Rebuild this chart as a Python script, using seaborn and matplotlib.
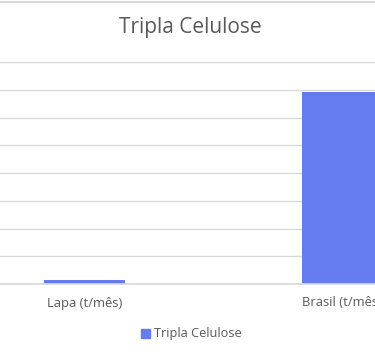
import matplotlib
matplotlib.use("Agg")
import matplotlib.pyplot as plt
import seaborn as sns
import pandas as pd
from matplotlib.patches import Rectangle
from matplotlib.lines import Line2D

categories = ["Lapa (t/mês)", "Brasil (t/mês)"]
values = [1300, 69200]
series_name = "Tripla Celulose"

sns.set_theme(style="white")
plt.rcParams['font.family'] = ['Open Sans', 'DejaVu Sans']

df = pd.DataFrame({"cat": categories, "val": values})

fig = plt.figure(figsize=(3.75, 3.58), dpi=100)
ax = fig.add_axes([-44.5/375, 74/358, 516/375, 222/358])
color = "#647CEF"
sns.barplot(data=df, x="cat", y="val", color=color, width=0.314, ax=ax,
            saturation=1, edgecolor="none")
ax.set_xlim(-0.5, 1.5)
ax.set_ylim(0, 80000)
ax.set_yticks(range(0, 80001, 10000))
ax.yaxis.grid(True, color="#D9D9D9", linewidth=1)
ax.set_axisbelow(True)
for s in ["top", "right", "left"]:
    ax.spines[s].set_visible(False)
ax.spines["bottom"].set_color("#D9D9D9")
ax.tick_params(axis="y", left=False, labelleft=False)
ax.tick_params(axis="x", bottom=False, colors="#595959", labelsize=9.4, pad=3)
ax.set_xlabel("")
ax.set_ylabel("")

fig.text(190/375, 1 - 27/358, "Tripla Celulose", ha="center", va="center",
         fontsize=15, color="#595959")
fig.add_artist(Line2D([0, 1], [1 - 2/358, 1 - 2/358], color="#D9D9D9", linewidth=1.5,
                      transform=fig.transFigure))

handle = Rectangle((0, 0), 1, 1, color=color)
fig.legend([handle], [series_name], loc="center", bbox_to_anchor=(191/375, 1 - 334/358),
           frameon=False, fontsize=9.2, handlelength=0.7, handleheight=0.7,
           handletextpad=0.3, labelcolor="#595959")

fig.savefig("out.png", dpi=100)
